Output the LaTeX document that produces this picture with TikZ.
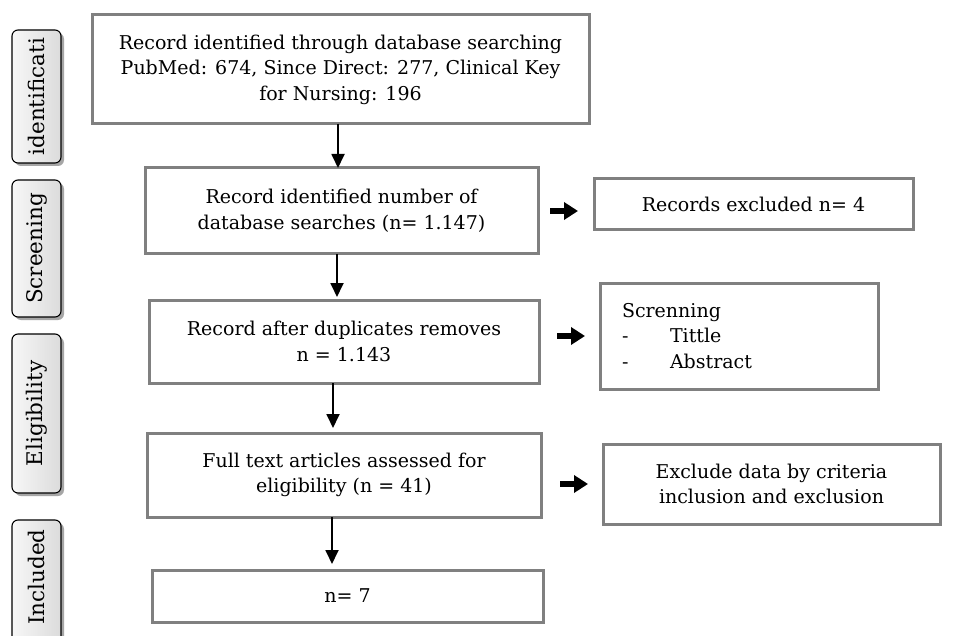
\documentclass[tikz,border=0pt]{standalone}
\usepackage{fontspec}
\setmainfont{DejaVu Serif}
\usetikzlibrary{arrows.meta}
\begin{document}
\begin{tikzpicture}[x=1pt,y=-1pt,
  box/.style={draw=black!50, line width=3pt, fill=white, align=center,
    inner sep=0pt, outer sep=0pt, font=\fontsize{19}{25.5}\selectfont},
  tab/.style={draw=black, line width=1.1pt, rounded corners=6pt,
    left color=gray!6, right color=gray!28},
  tabshadow/.style={fill=black!35, rounded corners=6pt},
  tabtext/.style={rotate=90, font=\fontsize{21.5}{25}\selectfont, inner sep=0pt},
  downarrow/.style={line width=1.8pt, -{Triangle[length=14pt,width=13pt]}},
  blockarrow/.style={line width=6pt, -{Triangle[length=14pt,width=17pt]}}
]
\clip (0,0) rectangle (955,636);
\fill[white] (0,0) rectangle (955,636);

% side tabs
\fill[tabshadow] (15,33) rectangle (64,166);
\shade[tab] (12,30) rectangle (61,163);
\node[tabtext] (t1) at (36.5,96.5) {identificati};
\fill[tabshadow] (15,183) rectangle (64,320);
\shade[tab] (12,180) rectangle (61,317);
\node[tabtext] (t2) at (36.5,248.5) {Screening};
\fill[tabshadow] (15,337) rectangle (64,496);
\shade[tab] (12,334) rectangle (61,493);
\node[tabtext] (t3) at (36.5,413.5) {Eligibility};
\fill[tabshadow] (15,523) rectangle (64,663);
\shade[tab] (12,520) rectangle (61,660);
\node[tabtext] (t4) at (36.5,577) {Included};

% main column
\node[box, minimum width=497pt, minimum height=109pt] (b1) at (340.5,69.5)
  {Record identified through database searching\\PubMed: 674, Since Direct: 277, Clinical Key\\for Nursing: 196};
\node[box, minimum width=393pt, minimum height=86pt] (b2) at (341.5,211)
  {Record identified number of\\database searches (n= 1.147)};
\node[box, minimum width=390pt, minimum height=83pt] (b3) at (344,341.5)
  {Record after duplicates removes\\n = 1.143};
\node[box, minimum width=394pt, minimum height=84pt] (b4) at (344,475)
  {Full text articles assessed for\\eligibility (n = 41)};
\node[box, minimum width=391pt, minimum height=52pt] (b5) at (347.5,596)
  {n= 7};

% side boxes
\node[box, minimum width=319pt, minimum height=51pt] (e1) at (753.5,204.5)
  {Records excluded n= 4};
\node[box, text width=234pt, inner xsep=22pt, minimum height=106pt, align=left] (e2) at (739,336)
  {Screnning\\\makebox[48pt][l]{-}Tittle\\\makebox[48pt][l]{-}Abstract};
\node[box, minimum width=337pt, minimum height=80pt] (e3) at (771.5,484)
  {Exclude data by criteria\\inclusion and exclusion};

% down arrows
\draw[downarrow] ([xshift=-2.5pt]b1.south) -- ([xshift=-2.5pt]b1.south |- b2.north);
\draw[downarrow, shorten >=3pt] ([xshift=-4.5pt]b2.south) -- ([xshift=-4.5pt]b2.south |- b3.north);
\draw[downarrow, shorten >=5pt] ([xshift=-11pt]b3.south) -- ([xshift=-11pt]b3.south |- b4.north);
\draw[downarrow, shorten >=6pt] ([xshift=-12pt]b4.south) -- ([xshift=-12pt]b4.south |- b5.north);

% right arrows
\draw[blockarrow, shorten <=12pt, shorten >=16pt] (b2.east) -- (b2.east -| e1.west);
\draw[blockarrow, shorten <=18pt, shorten >=15pt] (e2.west -| b3.east) -- (e2.west);
\draw[blockarrow, shorten <=19pt, shorten >=15pt] (e3.west -| b4.east) -- (e3.west);
\end{tikzpicture}
\end{document}
